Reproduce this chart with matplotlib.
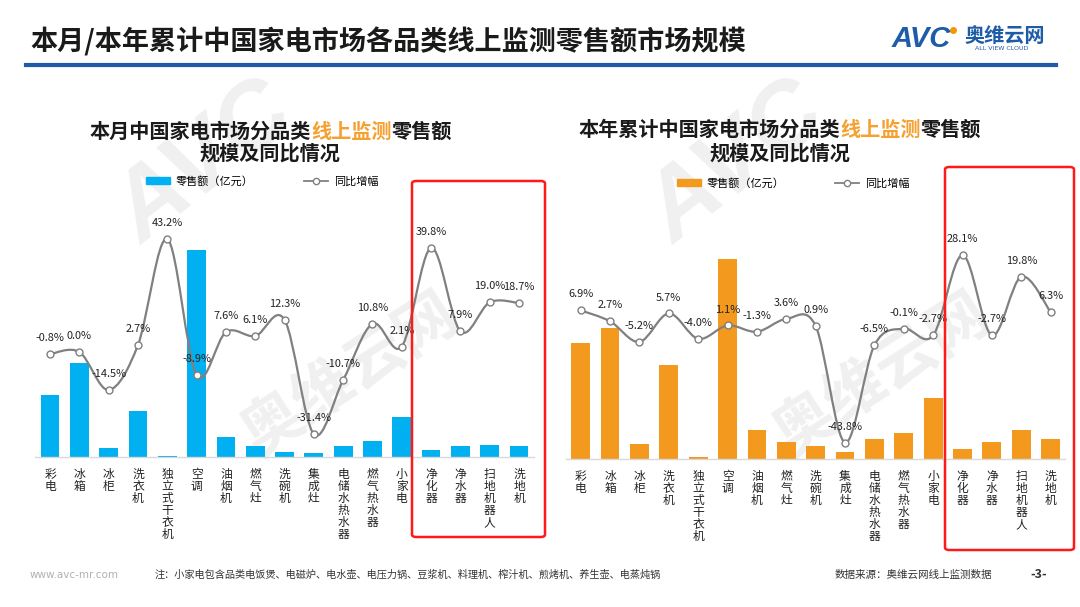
import numpy as np
import matplotlib
matplotlib.use('Agg')
import matplotlib.pyplot as plt
from matplotlib.path import Path
from matplotlib.patches import PathPatch, FancyBboxPatch, Patch
from matplotlib.lines import Line2D

plt.rcParams['font.family'] = ['Noto Sans CJK SC', 'DejaVu Sans']

categories = ['彩电', '冰箱', '冰柜', '洗衣机', '独立式干衣机', '空调', '油烟机', '燃气灶', '洗碗机',
              '集成灶', '电储水热水器', '燃气热水器', '小家电', '净化器', '净水器', '扫地机器人', '洗地机']

# month (left) and year-to-date (right), retail sales (亿元, estimated) and yoy growth (%)
month_sales = [28.4, 43.1, 3.9, 21.1, 0.5, 94.9, 9.0, 5.0, 2.3, 1.5, 5.0, 7.3, 18.3, 3.1, 4.7, 5.4, 4.7]
month_yoy = [-0.8, 0.0, -14.5, 2.7, 43.2, -8.9, 7.6, 6.1, 12.3, -31.4, -10.7, 10.8, 2.1, 39.8, 7.9, 19.0, 18.7]
ytd_sales = [442, 500, 56, 358, 8, 766, 112, 65, 49, 24, 76, 99, 234, 37, 65, 112, 76]
ytd_yoy = [6.9, 2.7, -5.2, 5.7, -4.0, 1.1, -1.3, 3.6, 0.9, -43.8, -6.5, -0.1, -2.7, 28.1, -2.7, 19.8, 6.3]

BLUE = '#00B0F0'
ORANGE = '#F39A1E'
TITLE_ORANGE = '#F5A030'
LINE_GREY = '#808080'
W, H = 1080, 607


def fx(px):
    return px / W


def fy(py):
    return 1 - py / H


def smooth_path(x, y):
    # excel-like smoothed line through the points (cubic bezier segments)
    pts = np.column_stack([x, y]).astype(float)
    n = len(pts)
    verts = [pts[0]]
    codes = [Path.MOVETO]
    for i in range(n - 1):
        p0 = pts[i - 1] if i > 0 else pts[i]
        p1 = pts[i]
        p2 = pts[i + 1]
        p3 = pts[i + 2] if i + 2 < n else pts[i + 1]
        c1 = p1 + (p2 - p0) / 6
        c2 = p2 - (p3 - p1) / 6
        verts += [c1, c2, p2]
        codes += [Path.CURVE4] * 3
    return Path(verts, codes)


def draw_panel(rect, sales, yoy, color, ylim_bar, ylim_line):
    ax = fig.add_axes(rect)
    ax.patch.set_alpha(0)
    x = np.arange(len(categories))
    ax.bar(x, sales, width=0.64, color=color, zorder=2)
    ax.set_xlim(-0.5, len(categories) - 0.5)
    ax.set_ylim(*ylim_bar)
    for s in ['top', 'left', 'right']:
        ax.spines[s].set_visible(False)
    ax.spines['bottom'].set_color('#d9d9d9')
    ax.spines['bottom'].set_linewidth(1.0)
    ax.set_yticks([])
    ax.set_xticks(x)
    ax.set_xticklabels(['\n'.join(c) for c in categories], fontsize=8.5,
                       linespacing=0.9, va='top', color='#222222')
    ax.tick_params(axis='x', length=0, pad=8)

    axt = ax.twinx()
    axt.set_ylim(*ylim_line)
    axt.set_yticks([])
    for s in axt.spines.values():
        s.set_visible(False)
    axt.add_patch(PathPatch(smooth_path(x, yoy), facecolor='none', edgecolor=LINE_GREY,
                            linewidth=1.6, zorder=3))
    axt.plot(x, yoy, linestyle='none', marker='o', markersize=5, markerfacecolor='white',
             markeredgecolor=LINE_GREY, markeredgewidth=1.0, zorder=4)
    for xi, v in zip(x, yoy):
        axt.annotate(f'{v:.1f}%', (xi, v), xytext=(0, 11.5), textcoords='offset points',
                     ha='center', va='center', fontsize=7.9, color='#222222', zorder=5)
    return ax


def draw_title(cx, y, parts, size):
    r = fig.canvas.get_renderer()
    texts = [fig.text(0, y, s, color=c, fontsize=size, fontweight='bold', va='center', ha='left')
             for s, c in parts]
    widths = [t.get_window_extent(r).width / W for t in texts]
    x0 = cx - sum(widths) / 2
    for t, w in zip(texts, widths):
        t.set_x(x0)
        x0 += w


fig = plt.figure(figsize=(10.8, 6.07), dpi=100)

# watermarks (behind everything)
for dx in (0, 532):
    fig.text(fx(205 + dx), fy(165), 'AVC', fontsize=70, fontweight='bold', fontstyle='italic',
             color='#f0f0f0', rotation=38, ha='center', va='center', zorder=-5,
             family=['Liberation Sans'])
    fig.text(fx(350 + dx), fy(375), '奥维云网', fontsize=44, fontweight='bold',
             color='#f0f0f0', rotation=33, ha='center', va='center', zorder=-5)

# header
fig.text(fx(30), fy(42), '本月/本年累计中国家电市场各品类线上监测零售额市场规模',
         fontsize=19.5, fontweight='bold', color='#1a1a1a', va='center', ha='left')
fig.add_artist(Line2D([fx(26), fx(1056)], [fy(65), fy(65)], color='#1F5CA8', linewidth=3))
fig.text(fx(892), fy(39), 'AVC', fontsize=21, fontweight='bold', fontstyle='italic',
         color='#1F5CA8', va='center', ha='left', family=['Liberation Sans'])
fig.add_artist(Line2D([fx(953)], [fy(30)], marker='o', markersize=4, color='#F39800'))
fig.text(fx(1005), fy(35), '奥维云网', fontsize=14.5, fontweight='bold', color='#1F5CA8',
         va='center', ha='center')
fig.text(fx(1002), fy(48.5), 'ALL VIEW CLOUD', fontsize=4.5, color='#1F5CA8',
         va='center', ha='center', family=['DejaVu Sans'])

# panel titles
draw_title(fx(271), fy(131), [('本月中国家电市场分品类', '#1a1a1a'), ('线上监测', TITLE_ORANGE),
                               ('零售额', '#1a1a1a')], 14.5)
draw_title(fx(270), fy(153), [('规模及同比情况', '#1a1a1a')], 14.5)
draw_title(fx(780), fy(129), [('本年累计中国家电市场分品类', '#1a1a1a'), ('线上监测', TITLE_ORANGE),
                               ('零售额', '#1a1a1a')], 14.5)
draw_title(fx(780), fy(153), [('规模及同比情况', '#1a1a1a')], 14.5)

ax1 = draw_panel([fx(35.4), fy(456.7), (533.7 - 35.4) / W, (456.7 - 195) / H],
                 month_sales, month_yoy, BLUE, (0, 120), (-40, 60))
ax2 = draw_panel([fx(566), fy(458.7), (1065.3 - 566) / W, (458.7 - 198) / H],
                 ytd_sales, ytd_yoy, ORANGE, (0, 1000), (-50, 50))

line_handle = Line2D([], [], color=LINE_GREY, linewidth=1.3, marker='o', markersize=4.5,
                     markerfacecolor='white', markeredgecolor=LINE_GREY)
for (cx, cy), col in [((fx(262), fy(181)), BLUE), ((fx(793), fy(183)), ORANGE)]:
    fig.legend(handles=[Patch(color=col), line_handle], labels=['零售额（亿元）', '同比增幅'],
               loc='center', bbox_to_anchor=(cx, cy), ncol=2, frameon=False, fontsize=8,
               handlelength=2.2, handleheight=0.7, columnspacing=4.5, handletextpad=0.5)

# highlight boxes
for x0, y0, x1, y1 in [(412, 181, 545, 537), (945, 167, 1074, 550)]:
    fig.add_artist(FancyBboxPatch((fx(x0), fy(y1)), fx(x1 - x0), (y1 - y0) / H,
                                  boxstyle='round,pad=0,rounding_size=0.004',
                                  transform=fig.transFigure, facecolor='none',
                                  edgecolor='#FF1A1A', linewidth=1.8, zorder=10))

# footer
fig.text(fx(30), fy(575), 'www.avc-mr.com', fontsize=7.5, color='#b0b0b0', va='center', ha='left',
         family=['DejaVu Sans'])
fig.text(fx(155), fy(575), '注：小家电包含品类电饭煲、电磁炉、电水壶、电压力锅、豆浆机、料理机、榨汁机、煎烤机、养生壶、电蒸炖锅',
         fontsize=7.3, color='#333333', va='center', ha='left')
fig.text(fx(835), fy(575), '数据来源：奥维云网线上监测数据', fontsize=7.6, color='#333333',
         va='center', ha='left')
fig.text(fx(1039), fy(575), '-3-', fontsize=9, fontweight='bold', color='#333333',
         va='center', ha='center')

fig.savefig('out.png', dpi=100)
